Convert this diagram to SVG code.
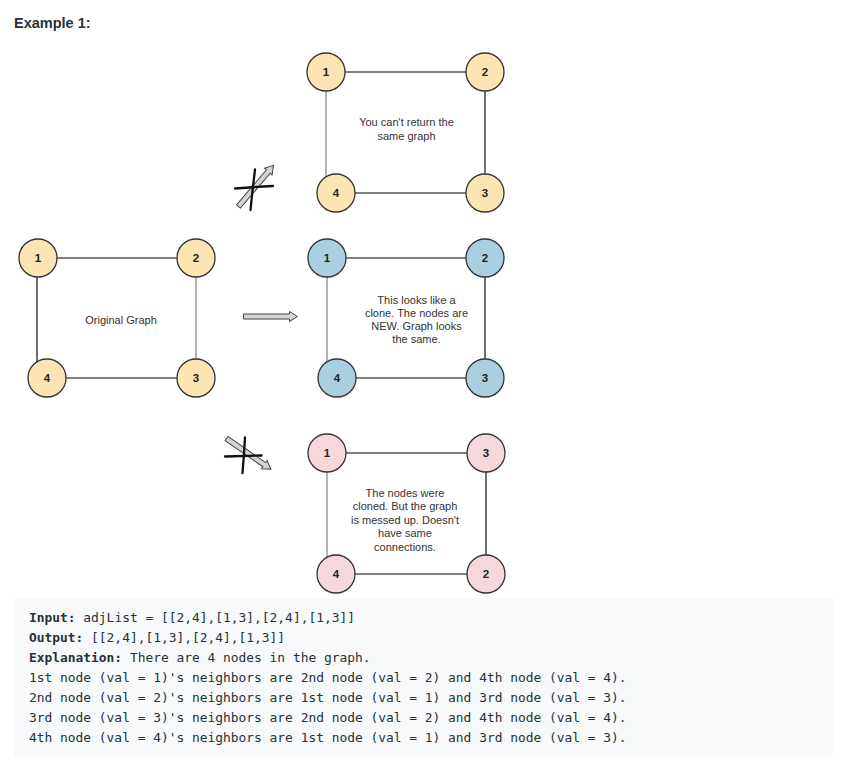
<svg xmlns="http://www.w3.org/2000/svg" width="846" height="770" viewBox="0 0 846 770">
<style>
.bg{fill:#ffffff}
.nodeY{fill:#fde5b3;stroke:#333333;stroke-width:1.3}
.nodeB{fill:#a9cfe1;stroke:#333333;stroke-width:1.3}
.nodeP{fill:#f5d7dc;stroke:#333333;stroke-width:1.3}
.nl{font-family:"Liberation Sans",Arial,sans-serif;font-size:11.5px;font-weight:bold;fill:#222;text-anchor:middle}
.lbl{font-family:"Liberation Sans",Arial,sans-serif;font-size:11px;fill:#333;text-anchor:middle}
.eg{stroke:#8a8a8a;stroke-width:1.3;fill:none}
.ed{stroke:#555555;stroke-width:1.3;fill:none}
.ek{stroke:#222222;stroke-width:1.3;fill:none}
.arrow{fill:#d4d4d4;stroke:#444;stroke-width:1}
.cross{stroke:#111;stroke-width:2.3;fill:none;stroke-linecap:round}
.title{font-family:"Liberation Sans",Arial,sans-serif;font-size:14.5px;font-weight:bold;fill:#263238}
.code{font-family:"DejaVu Sans Mono","Liberation Mono",monospace;font-size:12.9px;fill:#263238;white-space:pre}
.codeb{font-weight:bold}
</style>
<defs>
<path id="blockArrow" d="M0,-2.5 H46 V-5 L54,0 L46,5 V2.5 H0 Z"/>
</defs>
<rect class="bg" x="0" y="0" width="846" height="770"/>
<text class="title" x="14" y="28">Example 1:</text>

<g id="connectors">
  <!-- original -->
  <line class="ed" x1="38" y1="258" x2="196" y2="258"/>
  <line class="ek" x1="37" y1="258" x2="37" y2="378"/>
  <line class="eg" x1="196" y1="258" x2="196" y2="378"/>
  <line class="ed" x1="47" y1="378" x2="196" y2="378"/>
  <!-- top -->
  <line class="ed" x1="326" y1="72" x2="485" y2="72"/>
  <line class="eg" x1="326" y1="72" x2="326" y2="193"/>
  <line class="ek" x1="485" y1="72" x2="485" y2="193"/>
  <line class="ed" x1="336" y1="193" x2="485" y2="193"/>
  <!-- middle -->
  <line class="ed" x1="327" y1="258" x2="485" y2="258"/>
  <line class="eg" x1="327" y1="258" x2="327" y2="378"/>
  <line class="ek" x1="485" y1="258" x2="485" y2="378"/>
  <line class="ed" x1="337" y1="378" x2="485" y2="378"/>
  <!-- bottom -->
  <line class="ed" x1="327" y1="453" x2="486" y2="453"/>
  <line class="eg" x1="327" y1="453" x2="327" y2="574"/>
  <line class="ek" x1="486" y1="453" x2="486" y2="574"/>
  <line class="ed" x1="336" y1="574" x2="486" y2="574"/>
  <!-- block arrows -->
  <use href="#blockArrow" class="arrow" transform="translate(243.5,316.5)"/>
  <use href="#blockArrow" class="arrow" transform="translate(238.5,206.5) rotate(-49.6)"/>
  <use href="#blockArrow" class="arrow" transform="translate(226.5,438.5) rotate(34.7)"/>
  <!-- crosses -->
  <path class="cross" d="M235,188.5 Q254,187 273,186"/>
  <path class="cross" d="M255,169.5 Q252.5,190 250.5,210"/>
  <path class="cross" d="M225,456.5 Q243,456 261.5,455.5"/>
  <path class="cross" d="M245,437.5 Q244,455 242.5,473"/>
</g>

<g id="orig-1"><circle class="nodeY" cx="38" cy="258" r="19"/><text class="nl" x="38" y="262">1</text></g>
<g id="orig-2"><circle class="nodeY" cx="196" cy="258" r="19"/><text class="nl" x="196" y="262">2</text></g>
<g id="orig-3"><circle class="nodeY" cx="196" cy="378" r="19"/><text class="nl" x="196" y="382">3</text></g>
<g id="orig-4"><circle class="nodeY" cx="47" cy="378" r="19"/><text class="nl" x="47" y="382">4</text></g>
<g id="orig-label"><text class="lbl" x="121" y="324">Original Graph</text></g>

<g id="top-1"><circle class="nodeY" cx="326" cy="72" r="19"/><text class="nl" x="326" y="76">1</text></g>
<g id="top-2"><circle class="nodeY" cx="485" cy="72" r="19"/><text class="nl" x="485" y="76">2</text></g>
<g id="top-3"><circle class="nodeY" cx="485" cy="193" r="19"/><text class="nl" x="485" y="197">3</text></g>
<g id="top-4"><circle class="nodeY" cx="336" cy="193" r="19"/><text class="nl" x="336" y="197">4</text></g>
<g id="top-label">
  <text class="lbl" x="406.5" y="125.5">You can't return the</text>
  <text class="lbl" x="406.5" y="140">same graph</text>
</g>

<g id="mid-1"><circle class="nodeB" cx="327" cy="258" r="19"/><text class="nl" x="327" y="262">1</text></g>
<g id="mid-2"><circle class="nodeB" cx="485" cy="258" r="19"/><text class="nl" x="485" y="262">2</text></g>
<g id="mid-3"><circle class="nodeB" cx="485" cy="378" r="19"/><text class="nl" x="485" y="382">3</text></g>
<g id="mid-4"><circle class="nodeB" cx="337" cy="378" r="19"/><text class="nl" x="337" y="382">4</text></g>
<g id="mid-label">
  <text class="lbl" x="416.5" y="303.5">This looks like a</text>
  <text class="lbl" x="416.5" y="316.5">clone. The nodes are</text>
  <text class="lbl" x="416.5" y="329.5">NEW. Graph looks</text>
  <text class="lbl" x="416.5" y="342.5">the same.</text>
</g>

<g id="bot-1"><circle class="nodeP" cx="327" cy="453" r="19"/><text class="nl" x="327" y="457">1</text></g>
<g id="bot-3"><circle class="nodeP" cx="486" cy="453" r="19"/><text class="nl" x="486" y="457">3</text></g>
<g id="bot-2"><circle class="nodeP" cx="486" cy="574" r="19"/><text class="nl" x="486" y="578">2</text></g>
<g id="bot-4"><circle class="nodeP" cx="336" cy="574" r="19"/><text class="nl" x="336" y="578">4</text></g>
<g id="bot-label">
  <text class="lbl" x="405" y="496.5">The nodes were</text>
  <text class="lbl" x="405" y="510">cloned. But the graph</text>
  <text class="lbl" x="405" y="523.5">is messed up. Doesn't</text>
  <text class="lbl" x="405" y="537">have same</text>
  <text class="lbl" x="405" y="550.5">connections.</text>
</g>

<g id="code-block">
  <rect x="14" y="598" width="819" height="159" rx="3" fill="#f7f9fa"/>
  <text class="code" x="29" y="622"><tspan class="codeb">Input:</tspan> adjList = [[2,4],[1,3],[2,4],[1,3]]</text>
  <text class="code" x="29" y="642"><tspan class="codeb">Output:</tspan> [[2,4],[1,3],[2,4],[1,3]]</text>
  <text class="code" x="29" y="662"><tspan class="codeb">Explanation:</tspan> There are 4 nodes in the graph.</text>
  <text class="code" x="29" y="682">1st node (val = 1)'s neighbors are 2nd node (val = 2) and 4th node (val = 4).</text>
  <text class="code" x="29" y="702">2nd node (val = 2)'s neighbors are 1st node (val = 1) and 3rd node (val = 3).</text>
  <text class="code" x="29" y="722">3rd node (val = 3)'s neighbors are 2nd node (val = 2) and 4th node (val = 4).</text>
  <text class="code" x="29" y="742">4th node (val = 4)'s neighbors are 1st node (val = 1) and 3rd node (val = 3).</text>
</g>
</svg>
